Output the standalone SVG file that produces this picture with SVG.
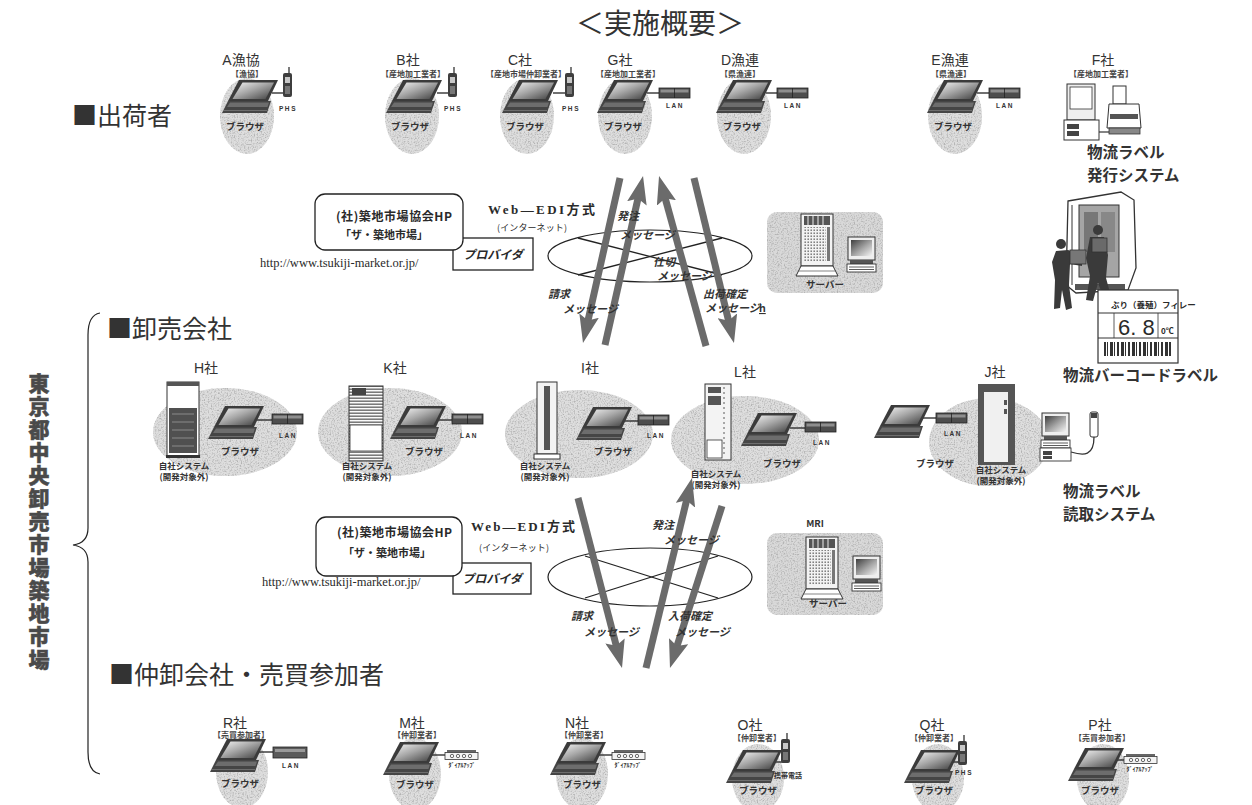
<svg xmlns="http://www.w3.org/2000/svg" width="1252" height="805" viewBox="0 0 1252 805">
<style>
text{font-family:"Noto Sans CJK JP",sans-serif;fill:#2a2a2a}
.ttl{font-size:28px;text-anchor:middle;fill:#333}
.sec{font-size:25px;fill:#333}
.nm{font-family:"Liberation Sans","Noto Sans CJK JP",sans-serif;font-size:14px;text-anchor:middle;fill:#333}
.sb{font-size:8px;font-weight:bold;text-anchor:middle;fill:#444}
.br{font-size:9.5px;font-weight:bold;text-anchor:middle;fill:#333}
.dv{font-family:"Liberation Sans",sans-serif;font-size:6.5px;font-weight:bold;letter-spacing:1.6px;text-anchor:middle;fill:#333}
.dial{font-size:6px;font-weight:bold;text-anchor:middle;fill:#333}
.own{font-size:8.5px;font-weight:bold;text-anchor:middle;fill:#333}
.msg{font-size:11px;font-weight:bold;font-style:italic;fill:#333}
.big{font-size:15.5px;font-weight:bold;fill:#333}
.web{font-family:"Liberation Serif","Noto Sans CJK JP",serif;font-size:13px;font-weight:bold}
.net{font-size:9px}
.hp{font-size:12px;font-weight:bold}
.zm{font-size:11px;font-weight:bold;text-anchor:middle}
.prv{font-size:12px;font-weight:bold;font-style:italic;text-anchor:middle}
.url{font-family:"Liberation Serif",serif;font-size:12.5px}
.vt{font-size:21px;font-weight:900;writing-mode:vertical-rl;letter-spacing:2px;fill:#4a4a4a;stroke:#4a4a4a;stroke-width:0.5}
.blob{fill:#dedede}
.room{fill:#d9d9d9}
.edge{fill:none;stroke:#222;stroke-width:1.2}
.wire{stroke:#222;stroke-width:1.3}
.box{fill:#fff;stroke:#222;stroke-width:1.3}
.arw{stroke:#6b6b6b;stroke-width:7;fill:none;marker-end:url(#head)}
</style>
<defs>
  <filter id="grain" x="0" y="0" width="1" height="1">
    <feTurbulence type="fractalNoise" baseFrequency="0.7" numOctaves="2" seed="4" result="n"/>
    <feColorMatrix in="n" type="matrix" values="0 0 0 0 0.45 0 0 0 0 0.45 0 0 0 0 0.45 3 0 0 0 -1.35" result="g"/>
    <feComposite in="g" in2="SourceAlpha" operator="in" result="gi"/>
    <feMerge><feMergeNode in="SourceGraphic"/><feMergeNode in="gi"/></feMerge>
  </filter>
  <linearGradient id="scr" x1="0" y1="0" x2="1" y2="1">
    <stop offset="0" stop-color="#f4f4f4"/><stop offset="0.45" stop-color="#a8a8a8"/><stop offset="1" stop-color="#3e3e3e"/>
  </linearGradient>
  <pattern id="dots" width="3" height="3" patternUnits="userSpaceOnUse">
    <rect width="3" height="3" fill="#f2f2f2"/><rect x="0.5" y="0.5" width="1.4" height="1.4" fill="#666"/>
  </pattern>
  <pattern id="stripes" width="4" height="3" patternUnits="userSpaceOnUse">
    <rect width="4" height="3" fill="#fafafa"/><rect y="1.6" width="4" height="1.1" fill="#444"/>
  </pattern>
  <marker id="head" viewBox="0 0 28 20" markerWidth="28" markerHeight="20" refX="6" refY="10" orient="auto" markerUnits="userSpaceOnUse">
    <path d="M0,0 L28,10 L0,20 L5,10 Z" fill="#6b6b6b"/>
  </marker>
  <!-- notebook PC -->
  <g id="lap">
    <polygon points="17,0 56,0 46,21 6,21" fill="#3b3b3b"/>
    <polygon points="20.5,2.5 52,2.5 43.5,19 10.5,19" fill="url(#scr)"/>
    <polygon points="6,21 49,21 45,33 0,33" fill="#454545"/>
    <polygon points="8,22.5 47,22.5 45.5,27 5,27" fill="#6d6d6d"/>
    <line x1="1" y1="30.5" x2="45" y2="30.5" stroke="#8a8a8a" stroke-width="0.6"/>
  </g>
  <!-- handset (PHS / mobile) -->
  <g id="phs">
    <line x1="7" y1="0" x2="7" y2="7" stroke="#333" stroke-width="1.3"/>
    <rect x="1" y="6" width="9" height="24" rx="2" fill="#3e3e3e"/>
    <rect x="3" y="10" width="5" height="6" fill="#c8c8c8"/>
    <rect x="3" y="19" width="5" height="8" fill="#777"/>
  </g>
  <!-- LAN hub -->
  <g id="hub">
    <rect x="0" y="0" width="31" height="10" fill="#4d4d4d" stroke="#222" stroke-width="0.8"/>
    <rect x="1.5" y="1.5" width="28" height="3" fill="#8e8e8e"/>
    <line x1="15.5" y1="0" x2="15.5" y2="10" stroke="#222" stroke-width="0.8"/>
  </g>
  <!-- dial-up modem -->
  <g id="mdm">
    <rect x="2" y="0" width="29" height="2.5" fill="#666"/>
    <rect x="0" y="2.5" width="33" height="7" fill="#f4f4f4" stroke="#333" stroke-width="0.8"/>
    <g fill="none" stroke="#333" stroke-width="0.7">
      <circle cx="7" cy="6" r="1.7"/><circle cx="13" cy="6" r="1.7"/><circle cx="19" cy="6" r="1.7"/><circle cx="25" cy="6" r="1.7"/>
    </g>
  </g>
  <!-- rack server with stand -->
  <g id="rack">
    <rect x="0" y="0" width="32" height="52" fill="#f3f3f3" stroke="#333" stroke-width="1"/>
    <rect x="3" y="2" width="26" height="9" fill="#555"/>
    <g stroke="#eee" stroke-width="1"><line x1="7" y1="2" x2="7" y2="11"/><line x1="12" y1="2" x2="12" y2="11"/><line x1="17" y1="2" x2="17" y2="11"/><line x1="22" y1="2" x2="22" y2="11"/></g>
    <rect x="3" y="13" width="22" height="34" fill="url(#dots)"/>
    <rect x="26" y="13" width="3" height="34" fill="#777"/>
    <polygon points="-5,62 37,62 32,52 0,52" fill="#fff" stroke="#333" stroke-width="1"/>
    <line x1="-2" y1="57" x2="34" y2="57" stroke="#333" stroke-width="0.6"/>
  </g>
  <!-- desktop monitor with keyboard -->
  <g id="mon">
    <rect x="0" y="0" width="27" height="23" fill="#eee" stroke="#333" stroke-width="1"/>
    <rect x="3" y="3" width="21" height="16" fill="url(#scr)" transform="rotate(180 13.5 11)"/>
    <rect x="2" y="23" width="23" height="4" fill="#555"/>
    <rect x="-1" y="27" width="29" height="8" fill="#fff" stroke="#333" stroke-width="0.9"/>
    <g stroke="#333" stroke-width="0.8"><line x1="1" y1="30" x2="26" y2="30"/><line x1="1" y1="32.5" x2="26" y2="32.5"/></g>
  </g>
</defs>

<!-- heading and section labels -->
<text class="ttl" x="660" y="34">＜実施概要＞</text>
<text class="sec" x="72" y="125">■出荷者</text>
<text class="sec" x="107" y="338">■卸売会社</text>
<text class="sec" x="109" y="684">■仲卸会社・売買参加者</text>

<g id="market">
  <path class="edge" d="M100,313 Q88,315 88,335 L88,528 Q88,543 73,545 Q88,547 88,562 L88,752 Q88,772 100,774"/>
  <text class="vt" x="39" y="373">東京都中央卸売市場築地市場</text>
</g>

<!-- ===== shippers ===== -->
<g id="ship-a">
  <ellipse class="blob" cx="247" cy="116" rx="27" ry="38" filter="url(#grain)"/>
  <text class="nm" x="241" y="65">A漁協</text><text class="sb" x="247" y="77">【漁協】</text>
  <line class="wire" x1="272" y1="93" x2="284" y2="93"/>
  <use href="#lap" x="222" y="80"/><use href="#phs" x="282" y="67"/>
  <text class="dv" x="288" y="111">PHS</text><text class="br" x="245" y="130">ブラウザ</text>
</g>
<g id="ship-b">
  <ellipse class="blob" cx="412" cy="116" rx="27" ry="38" filter="url(#grain)"/>
  <text class="nm" x="408" y="65">B社</text><text class="sb" x="413" y="77">【産地加工業者】</text>
  <line class="wire" x1="437" y1="93" x2="449" y2="93"/>
  <use href="#lap" x="386" y="80"/><use href="#phs" x="447" y="67"/>
  <text class="dv" x="453" y="111">PHS</text><text class="br" x="410" y="130">ブラウザ</text>
</g>
<g id="ship-c">
  <ellipse class="blob" cx="527" cy="116" rx="27" ry="38" filter="url(#grain)"/>
  <text class="nm" x="520" y="65">C社</text><text class="sb" x="526" y="77">【産地市場仲卸業者】</text>
  <line class="wire" x1="553" y1="93" x2="566" y2="93"/>
  <use href="#lap" x="502" y="80"/><use href="#phs" x="564" y="67"/>
  <text class="dv" x="571" y="111">PHS</text><text class="br" x="525" y="130">ブラウザ</text>
</g>
<g id="ship-g">
  <ellipse class="blob" cx="625" cy="116" rx="27" ry="38" filter="url(#grain)"/>
  <text class="nm" x="620" y="65">G社</text><text class="sb" x="628" y="77">【産地加工業者】</text>
  <line class="wire" x1="647" y1="93" x2="659" y2="93"/>
  <use href="#lap" x="597" y="80"/><use href="#hub" x="659" y="88"/>
  <text class="dv" x="675" y="108">LAN</text><text class="br" x="623" y="130">ブラウザ</text>
</g>
<g id="ship-d">
  <ellipse class="blob" cx="744" cy="116" rx="27" ry="38" filter="url(#grain)"/>
  <text class="nm" x="740" y="65">D漁連</text><text class="sb" x="740" y="77">【県漁連】</text>
  <line class="wire" x1="766" y1="93" x2="777" y2="93"/>
  <use href="#lap" x="716" y="80"/><use href="#hub" x="777" y="88"/>
  <text class="dv" x="793" y="108">LAN</text><text class="br" x="742" y="130">ブラウザ</text>
</g>
<g id="ship-e">
  <ellipse class="blob" cx="955" cy="116" rx="27" ry="38" filter="url(#grain)"/>
  <text class="nm" x="950" y="65">E漁連</text><text class="sb" x="951" y="77">【県漁連】</text>
  <line class="wire" x1="977" y1="93" x2="989" y2="93"/>
  <use href="#lap" x="927" y="80"/><use href="#hub" x="989" y="88"/>
  <text class="dv" x="1005" y="108">LAN</text><text class="br" x="953" y="130">ブラウザ</text>
</g>
<g id="ship-f">
  <text class="nm" x="1103" y="65">F社</text><text class="sb" x="1101" y="77">【産地加工業者】</text>
  <!-- desktop PC and label printer -->
  <rect x="1067" y="84" width="28" height="36" fill="#eee" stroke="#333" stroke-width="1"/>
  <rect x="1070" y="87" width="22" height="22" fill="#fff" stroke="#333" stroke-width="0.8"/>
  <rect x="1064" y="120" width="35" height="20" fill="#fff" stroke="#333" stroke-width="1"/>
  <rect x="1067" y="124" width="12" height="5" fill="#444"/><rect x="1067" y="131" width="12" height="5" fill="#444"/>
  <line x1="1099" y1="132" x2="1109" y2="132" stroke="#333" stroke-width="1.2"/>
  <rect x="1113" y="86" width="13" height="18" fill="#fff" stroke="#333" stroke-width="1"/>
  <path d="M1109,104 H1139 L1141,128 H1107 Z" fill="#fff" stroke="#333" stroke-width="1"/>
  <rect x="1110" y="114" width="28" height="5" fill="#555"/>
  <rect x="1109" y="128" width="31" height="6" fill="#888" stroke="#333" stroke-width="0.8"/>
  <text class="big" x="1087" y="158">物流ラベル</text>
  <text class="big" x="1087" y="181">発行システム</text>
</g>

<!-- ===== upper Web-EDI network ===== -->
<g id="edi-top">
  <rect class="box" x="453" y="238" width="80" height="32"/>
  <text class="prv" x="493" y="259">プロバイダ</text>
  <rect class="box" x="315" y="194" width="148" height="56" rx="10"/>
  <text class="hp" x="336" y="221" textLength="116">(社)築地市場協会HP</text>
  <text class="zm" x="384" y="239">「ザ・築地市場」</text>
  <text class="url" x="260" y="267">http://www.tsukiji-market.or.jp/</text>
  <text class="web" x="488" y="214" textLength="107">Web—EDI方式</text>
  <text class="net" x="497" y="231" textLength="70">(インターネット)</text>
  <ellipse class="edge" cx="650" cy="256" rx="102" ry="26"/>
  <line class="wire" x1="578" y1="238" x2="722" y2="275"/>
  <line class="wire" x1="578" y1="275" x2="722" y2="238"/>
</g>
<g id="server-top">
  <rect class="room" x="767" y="212" width="116" height="81" rx="10" filter="url(#grain)"/>
  <use href="#rack" x="801" y="214"/>
  <use href="#mon" x="848" y="237"/>
  <text class="br" x="825" y="288">サーバー</text>
</g>

<!-- ===== lower Web-EDI network ===== -->
<g id="edi-bottom">
  <rect class="box" x="453" y="563" width="78" height="31"/>
  <text class="prv" x="492" y="583">プロバイダ</text>
  <rect class="box" x="316" y="517" width="146" height="59" rx="10"/>
  <text class="hp" x="337" y="537" textLength="115">(社)築地市場協会HP</text>
  <text class="zm" x="387" y="557">「ザ・築地市場」</text>
  <text class="url" x="262" y="586">http://www.tsukiji-market.or.jp/</text>
  <text class="web" x="471" y="531" textLength="104">Web—EDI方式</text>
  <text class="net" x="479" y="551" textLength="70">(インターネット)</text>
  <ellipse class="edge" cx="650" cy="577" rx="102" ry="29"/>
  <line class="wire" x1="585" y1="556" x2="718" y2="598"/>
  <line class="wire" x1="585" y1="598" x2="718" y2="556"/>
</g>
<g id="server-mri">
  <text class="br" x="815" y="527">MRI</text>
  <rect class="room" x="767" y="533" width="116" height="82" rx="10" filter="url(#grain)"/>
  <use href="#rack" x="806" y="537"/>
  <use href="#mon" x="853" y="556"/>
  <text class="br" x="828" y="607">サーバー</text>
</g>

<!-- ===== logistics label / truck ===== -->
<g id="logistics">
  <polygon points="1068,201 1121,192 1134,200 1136,268 1128,290 1076,293 1066,285" fill="#fff" stroke="#333" stroke-width="1.3"/>
  <rect x="1079" y="205" width="40" height="72" fill="#a5a5a5" stroke="#333" stroke-width="1"/>
  <rect x="1084" y="212" width="14" height="40" fill="#777"/><rect x="1101" y="212" width="14" height="40" fill="#888"/>
  <line x1="1072" y1="205" x2="1072" y2="285" stroke="#333" stroke-width="1"/>
  <rect x="1075" y="284" width="50" height="6" fill="#555"/>
  <!-- workers -->
  <g fill="#3a3a3a">
    <circle cx="1061" cy="244" r="5"/>
    <path d="M1056,251 L1068,250 L1082,255 L1082,266 L1070,264 L1069,285 L1072,308 L1066,310 L1062,290 L1060,308 L1054,309 L1055,280 L1052,262 Z"/>
    <rect x="1070" y="250" width="16" height="14" fill="#777" stroke="#333" stroke-width="0.8"/>
    <circle cx="1098" cy="230" r="5"/>
    <path d="M1090,237 L1104,237 L1108,255 L1106,278 L1112,300 L1105,301 L1098,283 L1093,301 L1086,300 L1090,276 L1086,258 Z"/>
    <rect x="1092" y="238" width="15" height="14" fill="#6a6a6a" stroke="#333" stroke-width="0.8"/>
  </g>
  <rect x="1098" y="290" width="80" height="73" fill="#fff" stroke="#333" stroke-width="1.2"/>
  <line x1="1098" y1="313" x2="1178" y2="313" stroke="#333" stroke-width="1"/>
  <line x1="1098" y1="338" x2="1178" y2="338" stroke="#333" stroke-width="1"/>
  <line x1="1114" y1="313" x2="1114" y2="338" stroke="#333" stroke-width="0.8"/>
  <line x1="1158" y1="313" x2="1158" y2="338" stroke="#333" stroke-width="0.8"/>
  <text x="1111" y="308" style="font-size:8.5px;font-weight:bold">ぶり（養殖）フィレー</text>
  <text x="1118" y="335" style="font-family:'Liberation Sans',sans-serif;font-size:22px">6. 8</text>
  <text x="1161" y="334" style="font-size:8px;font-weight:bold">0℃</text>
  <g fill="#333">
    <rect x="1104" y="342" width="2" height="14"/><rect x="1107" y="342" width="1" height="14"/><rect x="1110" y="342" width="3" height="14"/><rect x="1114" y="342" width="1" height="14"/><rect x="1117" y="342" width="2" height="14"/><rect x="1121" y="342" width="3" height="14"/><rect x="1125" y="342" width="1" height="14"/><rect x="1128" y="342" width="2" height="14"/><rect x="1132" y="342" width="3" height="14"/><rect x="1136" y="342" width="1" height="14"/><rect x="1139" y="342" width="2" height="14"/><rect x="1143" y="342" width="3" height="14"/><rect x="1147" y="342" width="1" height="14"/><rect x="1150" y="342" width="2" height="14"/><rect x="1154" y="342" width="3" height="14"/><rect x="1158" y="342" width="1" height="14"/><rect x="1161" y="342" width="2" height="14"/><rect x="1165" y="342" width="3" height="14"/><rect x="1169" y="342" width="2" height="14"/>
  </g>
  <text class="big" x="1063" y="381">物流バーコードラベル</text>
</g>

<!-- ===== wholesalers ===== -->
<g id="whl-h">
  <ellipse class="blob" cx="225" cy="432" rx="72" ry="44" filter="url(#grain)"/>
  <text class="nm" x="206" y="373">H社</text>
  <rect x="167" y="382" width="32" height="75" fill="#fff" stroke="#333" stroke-width="1"/>
  <rect x="167" y="382" width="32" height="4" fill="#555"/>
  <rect x="169" y="408" width="28" height="45" fill="#505050"/>
  <g stroke="#999" stroke-width="0.8"><line x1="172" y1="414" x2="194" y2="414"/><line x1="172" y1="422" x2="194" y2="422"/><line x1="172" y1="430" x2="194" y2="430"/><line x1="172" y1="438" x2="194" y2="438"/><line x1="172" y1="446" x2="194" y2="446"/></g>
  <rect x="166" y="455" width="34" height="3" fill="#333"/>
  <line class="wire" x1="257" y1="420" x2="272" y2="420"/>
  <use href="#lap" x="208" y="406"/><use href="#hub" x="272" y="414"/>
  <text class="dv" x="288" y="438">LAN</text><text class="br" x="240" y="455">ブラウザ</text>
  <text class="own" x="184" y="469">自社システム</text><text class="own" x="184" y="480">(開発対象外)</text>
</g>
<g id="whl-k">
  <ellipse class="blob" cx="390" cy="432" rx="72" ry="44" filter="url(#grain)"/>
  <text class="nm" x="395" y="373">K社</text>
  <rect x="349" y="386" width="34" height="75" fill="url(#stripes)" stroke="#333" stroke-width="1"/>
  <rect x="352" y="388" width="14" height="7" fill="#444"/>
  <rect x="350" y="425" width="32" height="26" fill="#fff" stroke="#333" stroke-width="0.8"/>
  <line class="wire" x1="439" y1="420" x2="452" y2="420"/>
  <use href="#lap" x="390" y="406"/><use href="#hub" x="452" y="414"/>
  <text class="dv" x="469" y="438">LAN</text><text class="br" x="424" y="455">ブラウザ</text>
  <text class="own" x="367" y="469">自社システム</text><text class="own" x="367" y="480">(開発対象外)</text>
</g>
<g id="whl-i">
  <ellipse class="blob" cx="579" cy="434" rx="74" ry="44" filter="url(#grain)"/>
  <text class="nm" x="590" y="373">I社</text>
  <rect x="537" y="382" width="20" height="72" fill="#f3f3f3" stroke="#333" stroke-width="1"/>
  <rect x="544" y="386" width="6" height="64" fill="#555"/>
  <rect x="534" y="454" width="26" height="5" fill="#fff" stroke="#333" stroke-width="1"/>
  <line class="wire" x1="625" y1="421" x2="638" y2="421"/>
  <use href="#lap" x="576" y="407"/><use href="#hub" x="638" y="415"/>
  <text class="dv" x="656" y="438">LAN</text><text class="br" x="613" y="455">ブラウザ</text>
  <text class="own" x="545" y="469">自社システム</text><text class="own" x="545" y="480">(開発対象外)</text>
</g>
<g id="whl-l">
  <ellipse class="blob" cx="745" cy="440" rx="74" ry="44" filter="url(#grain)"/>
  <text class="nm" x="745" y="377">L社</text>
  <rect x="705" y="384" width="26" height="76" fill="#f3f3f3" stroke="#333" stroke-width="1"/>
  <rect x="708" y="387" width="13" height="6" fill="#555"/><rect x="708" y="396" width="13" height="9" fill="#555"/>
  <line x1="724" y1="387" x2="724" y2="457" stroke="#333" stroke-width="0.8" stroke-dasharray="2 3"/>
  <rect x="707" y="440" width="15" height="18" fill="#fff" stroke="#333" stroke-width="0.8"/>
  <line class="wire" x1="790" y1="428" x2="805" y2="428"/>
  <use href="#lap" x="741" y="413"/><use href="#hub" x="805" y="422"/>
  <text class="dv" x="822" y="445">LAN</text><text class="br" x="782" y="467">ブラウザ</text>
  <text class="own" x="716" y="477">自社システム</text><text class="own" x="716" y="488">(開発対象外)</text>
</g>
<g id="whl-j">
  <ellipse class="blob" cx="989" cy="442" rx="60" ry="44" filter="url(#grain)"/>
  <text class="nm" x="995" y="377">J社</text>
  <line class="wire" x1="921" y1="418" x2="936" y2="418"/>
  <use href="#lap" x="874" y="405"/><use href="#hub" x="936" y="413"/>
  <text class="dv" x="953" y="436">LAN</text>
  <rect x="978" y="384" width="37" height="81" fill="#555"/>
  <rect x="984" y="392" width="24" height="70" fill="#f0f0f0"/>
  <rect x="1004" y="400" width="3" height="5" fill="#555"/><rect x="1004" y="409" width="3" height="5" fill="#555"/>
  <use href="#mon" x="1042" y="413"/>
  <rect x="1040" y="448" width="31" height="13" fill="#fff" stroke="#333" stroke-width="0.9"/>
  <rect x="1043" y="451" width="9" height="4" fill="#444"/><rect x="1043" y="456" width="9" height="3" fill="#444"/>
  <rect x="1090" y="412" width="8" height="25" rx="2" fill="#fff" stroke="#333" stroke-width="1"/>
  <rect x="1091" y="413" width="6" height="5" fill="#444"/>
  <path d="M1094,437 C1094,456 1084,456 1071,452" fill="none" stroke="#333" stroke-width="1.3"/>
  <text class="br" x="935" y="467">ブラウザ</text>
  <text class="own" x="1001" y="473">自社システム</text><text class="own" x="1001" y="484">(開発対象外)</text>
  <text class="big" x="1063" y="497">物流ラベル</text>
  <text class="big" x="1063" y="520">読取システム</text>
</g>

<!-- ===== intermediate wholesalers / buyers ===== -->
<g id="buy-r">
  <ellipse class="blob" cx="242" cy="772" rx="26" ry="36" filter="url(#grain)"/>
  <text class="nm" x="235" y="728">R社</text><text class="sb" x="241" y="738">【売買参加者】</text>
  <line class="wire" x1="259" y1="752" x2="273" y2="752"/>
  <use href="#lap" x="210" y="739"/>
  <rect x="273" y="747" width="34" height="11" fill="#5a5a5a" stroke="#222" stroke-width="0.8"/>
  <rect x="275" y="749" width="30" height="3" fill="#999"/>
  <text class="dv" x="291" y="768">LAN</text><text class="br" x="240" y="787">ブラウザ</text>
</g>
<g id="buy-m">
  <ellipse class="blob" cx="415" cy="774" rx="26" ry="36" filter="url(#grain)"/>
  <text class="nm" x="412" y="728">M社</text><text class="sb" x="417" y="738">【仲卸業者】</text>
  <line class="wire" x1="432" y1="755" x2="445" y2="755"/>
  <use href="#lap" x="383" y="742"/><use href="#mdm" x="445" y="750"/>
  <text class="dial" x="462" y="767">ﾀﾞｲｱﾙｱｯﾌﾟ</text><text class="br" x="415" y="788">ブラウザ</text>
</g>
<g id="buy-n">
  <ellipse class="blob" cx="582" cy="774" rx="26" ry="36" filter="url(#grain)"/>
  <text class="nm" x="577" y="728">N社</text><text class="sb" x="584" y="738">【仲卸業者】</text>
  <line class="wire" x1="599" y1="755" x2="612" y2="755"/>
  <use href="#lap" x="550" y="742"/><use href="#mdm" x="612" y="750"/>
  <text class="dial" x="628" y="767">ﾀﾞｲｱﾙｱｯﾌﾟ</text><text class="br" x="582" y="788">ブラウザ</text>
</g>
<g id="buy-o">
  <ellipse class="blob" cx="758" cy="778" rx="26" ry="34" filter="url(#grain)"/>
  <text class="nm" x="750" y="730">O社</text><text class="sb" x="757" y="741">【仲卸業者】</text>
  <line class="wire" x1="775" y1="762" x2="785" y2="762"/>
  <use href="#lap" x="726" y="750"/><use href="#phs" x="780" y="733"/>
  <text class="dial" x="788" y="778" style="font-size:7px">携帯電話</text><text class="br" x="758" y="794">ブラウザ</text>
</g>
<g id="buy-q">
  <ellipse class="blob" cx="938" cy="778" rx="26" ry="34" filter="url(#grain)"/>
  <text class="nm" x="932" y="730">Q社</text><text class="sb" x="934" y="741">【仲卸業者】</text>
  <line class="wire" x1="952" y1="762" x2="962" y2="762"/>
  <use href="#lap" x="904" y="750"/><use href="#phs" x="957" y="735"/>
  <text class="dv" x="964" y="775">PHS</text><text class="br" x="934" y="794">ブラウザ</text>
</g>
<g id="buy-p">
  <ellipse class="blob" cx="1103" cy="778" rx="26" ry="34" filter="url(#grain)"/>
  <text class="nm" x="1100" y="730">P社</text><text class="sb" x="1102" y="741">【売買参加者】</text>
  <line class="wire" x1="1115" y1="760" x2="1124" y2="760"/>
  <use href="#lap" x="1068" y="748"/><use href="#mdm" x="1124" y="754"/>
  <text class="dial" x="1140" y="771">ﾀﾞｲｱﾙｱｯﾌﾟ</text><text class="br" x="1100" y="794">ブラウザ</text>
</g>

<!-- ===== message flows ===== -->
<g id="connectors">
  <line class="arw" x1="620" y1="178" x2="587.8" y2="321.5"/>
  <line class="arw" x1="605" y1="345" x2="638.2" y2="197.5"/>
  <line class="arw" x1="706" y1="346" x2="664.9" y2="197.2"/>
  <line class="arw" x1="694" y1="178" x2="728.8" y2="321.6"/>
  <line class="arw" x1="578" y1="498" x2="616.5" y2="646.7"/>
  <line class="arw" x1="646" y1="668" x2="686.8" y2="499.4"/>
  <line class="arw" x1="722" y1="506" x2="676.7" y2="647"/>
  <text class="msg" x="617" y="220">発注</text><text class="msg" x="620" y="239">メッセージ</text>
  <text class="msg" x="653" y="266">仕切</text><text class="msg" x="657" y="280">メッセージ</text>
  <text class="msg" x="548" y="298">請求</text><text class="msg" x="563" y="313">メッセージ</text>
  <text class="msg" x="703" y="298">出荷確定</text><text class="msg" x="705" y="312">メッセージ</text>
  <text class="msg" x="759" y="312" style="font-family:'Liberation Sans',sans-serif;font-style:normal;text-decoration:underline">h</text>
  <text class="msg" x="652" y="529">発注</text><text class="msg" x="664" y="544">メッセージ</text>
  <text class="msg" x="571" y="620">請求</text><text class="msg" x="584" y="636">メッセージ</text>
  <text class="msg" x="668" y="620">入荷確定</text><text class="msg" x="675" y="636">メッセージ</text>
</g>
</svg>
